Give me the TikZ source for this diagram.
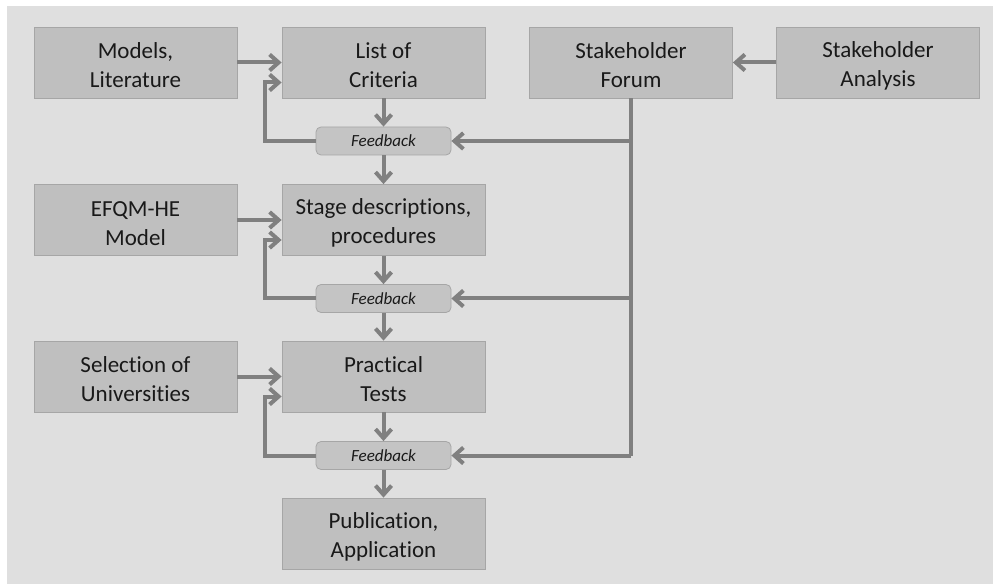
\documentclass[tikz,border=0pt]{standalone}
\usepackage{fontspec}
\setmainfont[Ligatures=NoCommon]{Carlito}
\usetikzlibrary{arrows.meta}
\definecolor{bgc}{HTML}{DFDFDF}
\definecolor{boxfill}{HTML}{BFBFBF}
\definecolor{boxline}{HTML}{A6A6A6}
\definecolor{arrowc}{HTML}{808080}
% taller first line, so the two text lines sit a little lower in a box
\newcommand{\topstrut}{\rule{0pt}{22pt}}
\begin{document}
\begin{tikzpicture}[x=1pt,y=-1pt,
  stagebox/.style={draw=boxline,fill=boxfill,line width=0.8pt,minimum width=203pt,minimum height=71pt,
    inner sep=0pt,align=center,font=\fontsize{23}{29}\selectfont,text=black!90},
  fbbox/.style={draw=boxline,fill=boxfill!92!white,line width=0.8pt,rounded corners=5pt,minimum width=135pt,
    minimum height=28pt,inner sep=0pt,font=\fontsize{17}{19}\selectfont\itshape,text=black!90},
  flow/.style={draw=arrowc,line width=4pt,-{Straight Barb[length=9pt,width=16pt]}},
  plain/.style={draw=arrowc,line width=4pt}]
\useasboundingbox (0,0) rectangle (993,585);
\fill[bgc] (7,6) rectangle (993,584);

% left column inputs
\node[stagebox] (models) at (135.5,62.5) {\topstrut Models,\\Literature};
\node[stagebox] (efqm) at (135.5,220) {\topstrut EFQM-HE\\Model};
\node[stagebox] (unis) at (135.5,376.5) {\topstrut Selection of\\Universities};

% main sequence
\node[stagebox] (crit) at (383.5,62.5) {\topstrut List of\\Criteria};
\node[fbbox] (fb1) at (383.5,141) {Feedback};
\node[stagebox] (stage) at (383.5,220) {\topstrut Stage descriptions,\\procedures};
\node[fbbox] (fb2) at (383.5,298.5) {Feedback};
\node[stagebox] (tests) at (383.5,376.5) {\topstrut Practical\\Tests};
\node[fbbox] (fb3) at (383.5,455.5) {Feedback};
\node[stagebox] (pub) at (383.5,533.5) {\topstrut Publication,\\Application};

% stakeholders
\node[stagebox] (forum) at (631,62.5) {\topstrut Stakeholder\\Forum};
\node[stagebox] (anal) at (878,62.5) {\topstrut Stakeholder\\Analysis};

% downward flow
\draw[flow] (crit) -- (fb1);
\draw[flow] (fb1) -- (stage);
\draw[flow] (stage) -- (fb2);
\draw[flow] (fb2) -- (tests);
\draw[flow] (tests) -- (fb3);
\draw[flow] (fb3) -- (pub);

% inputs from the left
\draw[flow] (models) -- (crit);
\draw[flow] (efqm) -- (stage);
\draw[flow] (unis) -- (tests);

% feedback loops back into each stage
\draw[flow] (fb1.west) -- (264.5,141) |- ([yshift=-20pt]crit.west);
\draw[flow] (fb2.west) -- (264.5,298.5) |- ([yshift=-20pt]stage.west);
\draw[flow] (fb3.west) -- (264.5,455.5) |- ([yshift=-20pt]tests.west);

% stakeholder input
\draw[flow] (anal) -- (forum);
\coordinate (trunk) at (631,455.5);
\draw[plain] (forum.south) -- (trunk);
\draw[flow] (631,141) -- (fb1.east);
\draw[flow] (631,298.5) -- (fb2.east);
\draw[flow] (trunk) -- (fb3.east);
\end{tikzpicture}
\end{document}
